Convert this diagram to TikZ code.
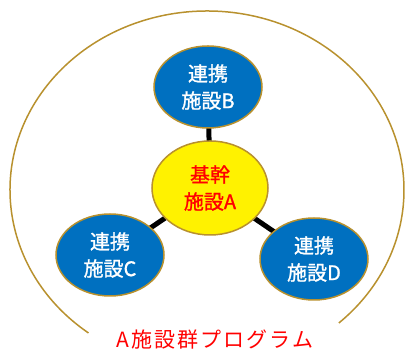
\documentclass[tikz,border=0pt]{standalone}
\usepackage{fontspec}
\newfontfamily\jp[FakeBold=1.2]{Noto Sans CJK JP}
\newfontfamily\jpl[LetterSpace=10]{Noto Sans CJK JP}
\usetikzlibrary{shapes.geometric}
\definecolor{gold}{HTML}{B8912E}
\definecolor{nodeblue}{HTML}{0070C0}
\tikzset{
  sat/.style={ellipse, draw=gold, line width=1.5pt, fill=nodeblue, text=white,
    minimum width=108pt, minimum height=82pt, inner sep=0pt, align=center,
    font=\jp\fontsize{20}{27}\selectfont},
  core/.style={ellipse, draw=gold, line width=1.5pt, fill=yellow, text=red,
    minimum width=116pt, minimum height=94pt, inner sep=0pt, align=center,
    font=\jp\fontsize{20}{27}\selectfont},
  link/.style={line width=5pt, black},
  frame/.style={draw=gold, line width=1.5pt}
}
\begin{document}
\begin{tikzpicture}[x=1pt,y=1pt]
\useasboundingbox (0,0) rectangle (405,352);
\draw[frame] (207,162) ++(233:197 and 179) arc[start angle=233, end angle=-48, x radius=197, y radius=179];
\coordinate (Ac) at (210,164);
\coordinate (Bc) at (208,265);
\coordinate (Cc) at (110,97);
\coordinate (Dc) at (314,93);
\draw[link] (Ac) -- (Bc);
\draw[link] (Ac) -- (Cc);
\draw[link] (Ac) -- (Dc);
\node[sat] (B) at (Bc) {連携\\施設B};
\node[sat] (C) at (Cc) {連携\\施設C};
\node[sat] (D) at (Dc) {連携\\施設D};
\node[core] (A) at (Ac) {基幹\\施設A};
\node[text=red, font=\jpl\fontsize{21}{24}\selectfont, inner sep=0pt] (L) at (215,12) {A施設群プログラム};
\end{tikzpicture}
\end{document}
